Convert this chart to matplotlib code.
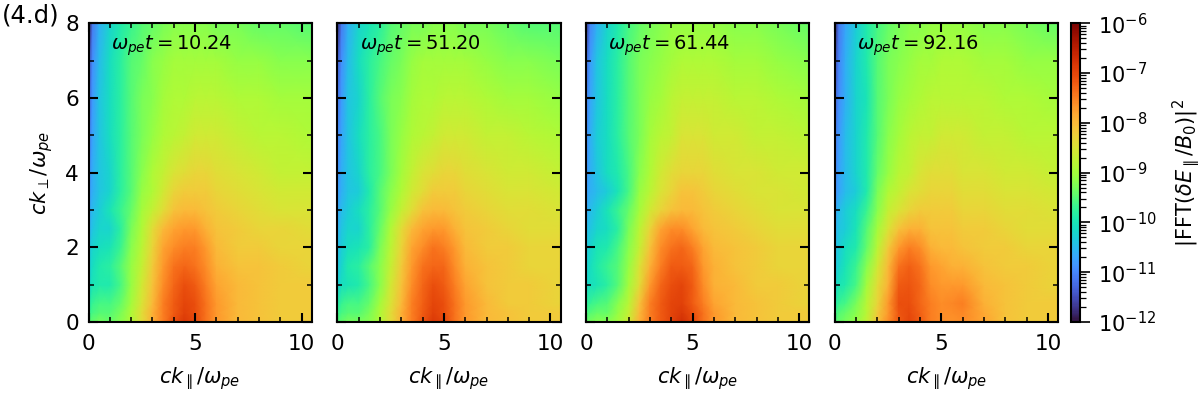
import numpy as np
import matplotlib
matplotlib.use('Agg')
import matplotlib.pyplot as plt
from matplotlib.colors import LogNorm
from matplotlib.ticker import MultipleLocator

# wavenumber sample points of the spectra
k_par = [0, 0.2, 0.5, 1, 1.5, 2, 2.5, 3, 3.5, 4, 4.5, 5, 5.5, 6, 7, 8, 9, 10.47]
k_perp = [0, 0.25, 0.5, 1, 1.5, 2, 2.5, 3, 3.5, 4, 5, 6, 7, 8]

times = ['10.24', '51.20', '61.44', '92.16']

# log10 of the spectrum, rows go up in k_perp
log_t1024 = [
    [-9.5, -9.4, -9.3, -9.4, -9.2, -8.9, -8.4, -7.9, -7.5, -7.1, -6.85, -7.05, -7.4, -7.7, -8.0, -8.1, -8.2, -8.2],
    [-9.7, -9.6, -9.5, -9.5, -9.3, -8.9, -8.4, -7.9, -7.5, -7.2, -6.95, -7.1, -7.4, -7.7, -8.0, -8.1, -8.2, -8.2],
    [-9.9, -9.7, -9.6, -9.6, -9.4, -9.0, -8.5, -8.0, -7.5, -7.2, -7.0, -7.1, -7.4, -7.7, -8.0, -8.1, -8.2, -8.2],
    [-10.2, -10.0, -9.9, -9.9, -9.6, -9.1, -8.6, -8.1, -7.6, -7.3, -7.1, -7.2, -7.5, -7.8, -8.0, -8.1, -8.2, -8.2],
    [-10.3, -10.1, -9.9, -9.8, -9.5, -9.1, -8.7, -8.2, -7.7, -7.4, -7.3, -7.4, -7.6, -7.9, -8.1, -8.1, -8.2, -8.3],
    [-10.4, -10.2, -10.1, -10.0, -9.7, -9.2, -8.8, -8.3, -7.8, -7.6, -7.5, -7.5, -7.7, -8.0, -8.2, -8.2, -8.3, -8.3],
    [-10.6, -10.4, -10.2, -10.2, -9.8, -9.3, -8.9, -8.4, -8.0, -7.8, -7.7, -7.7, -7.9, -8.1, -8.2, -8.3, -8.3, -8.4],
    [-10.7, -10.5, -10.3, -10.0, -9.7, -9.4, -9.0, -8.7, -8.4, -8.1, -8.0, -8.0, -8.1, -8.2, -8.3, -8.4, -8.5, -8.5],
    [-10.8, -10.6, -10.4, -10.2, -9.8, -9.5, -9.1, -8.9, -8.6, -8.3, -8.2, -8.2, -8.2, -8.3, -8.4, -8.5, -8.6, -8.6],
    [-10.9, -10.6, -10.4, -10.2, -9.8, -9.5, -9.2, -8.9, -8.7, -8.5, -8.4, -8.3, -8.3, -8.4, -8.5, -8.6, -8.7, -8.7],
    [-11.1, -10.7, -10.4, -10.1, -9.8, -9.5, -9.3, -9.1, -8.9, -8.8, -8.7, -8.6, -8.6, -8.6, -8.7, -8.8, -8.8, -8.9],
    [-11.3, -10.8, -10.4, -10.1, -9.8, -9.5, -9.3, -9.2, -9.0, -8.9, -8.9, -8.8, -8.8, -8.8, -8.9, -8.9, -9.0, -9.0],
    [-11.5, -10.9, -10.5, -10.1, -9.8, -9.5, -9.4, -9.2, -9.1, -9.0, -9.0, -9.0, -9.0, -9.0, -9.1, -9.1, -9.2, -9.2],
    [-11.9, -11.1, -10.6, -10.2, -9.9, -9.7, -9.5, -9.4, -9.3, -9.2, -9.2, -9.2, -9.2, -9.3, -9.3, -9.4, -9.4, -9.5],
]

log_t5120 = [
    [-9.5, -9.4, -9.3, -9.3, -9.2, -8.9, -8.4, -7.9, -7.5, -7.15, -6.85, -7.0, -7.4, -7.7, -8.0, -8.1, -8.2, -8.2],
    [-9.7, -9.6, -9.5, -9.5, -9.3, -8.9, -8.4, -7.9, -7.5, -7.2, -6.95, -7.1, -7.4, -7.7, -8.0, -8.1, -8.2, -8.2],
    [-9.9, -9.7, -9.6, -9.6, -9.4, -9.0, -8.5, -8.0, -7.5, -7.25, -7.0, -7.1, -7.4, -7.7, -8.0, -8.2, -8.2, -8.3],
    [-10.3, -10.1, -10.0, -9.9, -9.6, -9.2, -8.6, -8.1, -7.6, -7.3, -7.1, -7.2, -7.5, -7.8, -8.1, -8.2, -8.2, -8.3],
    [-10.4, -10.2, -9.9, -9.8, -9.5, -9.2, -8.7, -8.2, -7.7, -7.4, -7.3, -7.3, -7.6, -7.9, -8.1, -8.2, -8.3, -8.3],
    [-10.5, -10.3, -10.1, -10.0, -9.8, -9.3, -8.8, -8.3, -7.8, -7.6, -7.4, -7.5, -7.7, -8.0, -8.2, -8.2, -8.3, -8.3],
    [-10.6, -10.4, -10.2, -10.2, -9.8, -9.4, -8.9, -8.4, -8.0, -7.8, -7.7, -7.7, -7.9, -8.1, -8.2, -8.3, -8.4, -8.4],
    [-10.7, -10.5, -10.3, -10.1, -9.8, -9.5, -9.1, -8.7, -8.4, -8.1, -8.0, -8.0, -8.1, -8.2, -8.3, -8.4, -8.4, -8.5],
    [-10.8, -10.6, -10.4, -10.3, -9.9, -9.5, -9.2, -8.9, -8.6, -8.4, -8.2, -8.2, -8.2, -8.3, -8.4, -8.5, -8.5, -8.6],
    [-10.9, -10.6, -10.4, -10.2, -9.8, -9.6, -9.3, -9.0, -8.7, -8.5, -8.4, -8.3, -8.3, -8.4, -8.5, -8.6, -8.6, -8.7],
    [-11.0, -10.7, -10.4, -10.1, -9.8, -9.6, -9.3, -9.1, -8.9, -8.8, -8.7, -8.6, -8.6, -8.6, -8.7, -8.7, -8.8, -8.9],
    [-11.2, -10.8, -10.4, -10.2, -9.8, -9.5, -9.3, -9.2, -9.0, -8.9, -8.9, -8.8, -8.8, -8.8, -8.9, -9.0, -9.0, -9.1],
    [-11.4, -10.9, -10.5, -10.1, -9.8, -9.6, -9.4, -9.3, -9.1, -9.0, -9.0, -9.0, -9.0, -9.0, -9.1, -9.2, -9.2, -9.3],
    [-11.8, -11.1, -10.6, -10.2, -10.0, -9.8, -9.5, -9.4, -9.3, -9.3, -9.2, -9.2, -9.2, -9.3, -9.3, -9.4, -9.5, -9.5],
]

log_t6144 = [
    [-9.4, -9.3, -9.2, -9.2, -9.0, -8.6, -7.9, -7.5, -7.2, -7.0, -6.75, -7.0, -7.4, -7.7, -8.0, -8.1, -8.2, -8.2],
    [-9.6, -9.5, -9.4, -9.4, -9.1, -8.7, -8.0, -7.5, -7.2, -7.0, -6.85, -7.1, -7.4, -7.7, -8.0, -8.1, -8.2, -8.2],
    [-9.8, -9.7, -9.6, -9.5, -9.2, -8.8, -8.1, -7.5, -7.2, -7.0, -6.95, -7.2, -7.5, -7.8, -8.0, -8.1, -8.2, -8.3],
    [-10.2, -10.1, -10.0, -9.8, -9.5, -9.0, -8.4, -7.7, -7.3, -7.1, -7.0, -7.2, -7.6, -7.9, -8.0, -8.2, -8.2, -8.3],
    [-10.3, -10.1, -9.9, -9.7, -9.5, -9.1, -8.5, -7.9, -7.5, -7.2, -7.2, -7.3, -7.7, -7.9, -8.1, -8.2, -8.3, -8.3],
    [-10.4, -10.2, -10.0, -9.9, -9.6, -9.2, -8.7, -8.1, -7.6, -7.4, -7.3, -7.5, -7.8, -8.0, -8.1, -8.2, -8.3, -8.3],
    [-10.5, -10.4, -10.2, -10.1, -9.8, -9.3, -8.8, -8.3, -7.8, -7.6, -7.6, -7.8, -8.0, -8.1, -8.2, -8.3, -8.4, -8.4],
    [-10.7, -10.5, -10.3, -10.0, -9.7, -9.4, -9.0, -8.6, -8.3, -8.1, -8.0, -8.0, -8.1, -8.2, -8.3, -8.4, -8.5, -8.5],
    [-10.8, -10.6, -10.5, -10.3, -10.0, -9.6, -9.1, -8.8, -8.5, -8.3, -8.1, -8.1, -8.2, -8.3, -8.4, -8.5, -8.5, -8.6],
    [-10.9, -10.6, -10.4, -10.1, -9.9, -9.6, -9.2, -8.9, -8.6, -8.4, -8.3, -8.3, -8.3, -8.4, -8.5, -8.5, -8.6, -8.6],
    [-11.0, -10.6, -10.3, -10.1, -9.8, -9.5, -9.3, -9.0, -8.8, -8.7, -8.5, -8.5, -8.5, -8.6, -8.6, -8.7, -8.7, -8.8],
    [-11.1, -10.7, -10.4, -10.1, -9.8, -9.5, -9.3, -9.1, -9.0, -8.8, -8.7, -8.7, -8.7, -8.7, -8.8, -8.8, -8.9, -9.0],
    [-11.3, -10.8, -10.4, -10.1, -9.8, -9.5, -9.3, -9.2, -9.1, -9.0, -8.9, -8.9, -8.9, -8.9, -9.0, -9.0, -9.1, -9.2],
    [-11.7, -11.0, -10.6, -10.2, -9.9, -9.6, -9.4, -9.3, -9.2, -9.1, -9.1, -9.1, -9.1, -9.1, -9.2, -9.2, -9.3, -9.4],
]

log_t9216 = [
    [-9.5, -9.4, -9.3, -9.1, -8.7, -8.1, -7.6, -7.2, -7.0, -7.2, -7.5, -7.6, -7.65, -7.6, -7.8, -8.1, -8.2, -8.2],
    [-9.7, -9.5, -9.4, -9.2, -8.8, -8.2, -7.7, -7.15, -7.05, -7.25, -7.5, -7.6, -7.6, -7.55, -7.85, -8.1, -8.2, -8.2],
    [-9.9, -9.7, -9.6, -9.3, -8.8, -8.3, -7.7, -7.1, -7.1, -7.3, -7.5, -7.6, -7.55, -7.5, -7.9, -8.1, -8.2, -8.2],
    [-10.2, -10.0, -9.9, -9.6, -9.0, -8.4, -7.9, -7.2, -7.15, -7.3, -7.6, -7.7, -7.7, -7.7, -8.0, -8.1, -8.2, -8.3],
    [-10.4, -10.2, -10.0, -9.7, -9.2, -8.6, -8.0, -7.4, -7.25, -7.4, -7.7, -7.8, -7.9, -7.9, -8.1, -8.2, -8.2, -8.3],
    [-10.5, -10.3, -10.1, -9.9, -9.4, -8.8, -8.2, -7.7, -7.5, -7.6, -7.9, -8.0, -8.0, -8.1, -8.2, -8.2, -8.3, -8.3],
    [-10.6, -10.4, -10.3, -10.0, -9.5, -9.0, -8.5, -8.1, -7.9, -7.9, -8.1, -8.1, -8.1, -8.2, -8.2, -8.3, -8.4, -8.4],
    [-10.7, -10.5, -10.3, -10.1, -9.7, -9.2, -8.7, -8.5, -8.3, -8.2, -8.2, -8.2, -8.2, -8.3, -8.3, -8.4, -8.4, -8.5],
    [-10.9, -10.7, -10.5, -10.3, -9.9, -9.3, -8.9, -8.7, -8.5, -8.4, -8.3, -8.3, -8.3, -8.4, -8.4, -8.5, -8.5, -8.6],
    [-11.0, -10.7, -10.5, -10.2, -9.9, -9.4, -9.1, -8.8, -8.7, -8.5, -8.4, -8.4, -8.4, -8.5, -8.5, -8.6, -8.6, -8.7],
    [-11.1, -10.8, -10.5, -10.2, -9.9, -9.5, -9.2, -9.0, -8.8, -8.7, -8.7, -8.6, -8.6, -8.6, -8.7, -8.7, -8.8, -8.8],
    [-11.3, -10.9, -10.6, -10.2, -10.0, -9.5, -9.3, -9.1, -9.0, -8.9, -8.8, -8.8, -8.8, -8.8, -8.8, -8.9, -8.9, -9.0],
    [-11.5, -11.0, -10.6, -10.2, -9.9, -9.5, -9.3, -9.2, -9.1, -9.0, -9.0, -8.9, -8.9, -8.9, -9.0, -9.0, -9.1, -9.1],
    [-11.8, -11.1, -10.7, -10.3, -9.9, -9.6, -9.4, -9.3, -9.2, -9.2, -9.1, -9.1, -9.1, -9.1, -9.2, -9.2, -9.3, -9.4],
]

spectra = [log_t1024, log_t5120, log_t6144, log_t9216]

W, H = 1200., 397.
FS_TICK = 15.5
FS_LABEL = 15
FS_NOTE = 14
LW = 1.5

plt.rcParams['font.size'] = FS_TICK
plt.rcParams['axes.linewidth'] = LW

def px_axes(fig, x0, x1, y0, y1):
    # axes box from pixel edges, y counted from the top of the image
    return fig.add_axes([x0/W, 1 - y1/H, (x1 - x0)/W, (y1 - y0)/H])

fig = plt.figure(figsize=(W/100, H/100), dpi=100)
norm = LogNorm(vmin=1e-12, vmax=1e-6)
lefts = [88.5, 337.3, 586, 834.8]

for i in range(4):
    ax = px_axes(fig, lefts[i], lefts[i] + 223.2, 23.3, 322)
    mesh = ax.pcolormesh(k_par, k_perp, 10.0**np.array(spectra[i]), cmap='turbo',
                         norm=norm, shading='gouraud', rasterized=True)
    ax.set_xlim(0, 10.47)
    ax.set_ylim(0, 8)
    ax.xaxis.set_major_locator(MultipleLocator(5))
    ax.xaxis.set_minor_locator(MultipleLocator(1))
    ax.yaxis.set_major_locator(MultipleLocator(2))
    ax.yaxis.set_minor_locator(MultipleLocator(1))
    ax.tick_params(which='major', direction='in', top=True, right=True, length=6.5, width=LW, pad=7)
    ax.tick_params(which='minor', direction='in', top=True, right=True, length=3.5, width=1.1)
    ax.tick_params(axis='x', which='major', pad=9)
    ax.set_xlabel(r'$ck_\parallel/\omega_{pe}$', fontsize=FS_LABEL, labelpad=8)
    if i == 0:
        ax.set_ylabel(r'$ck_\perp/\omega_{pe}$', fontsize=FS_LABEL, labelpad=7)
    else:
        ax.set_yticklabels([])
    ax.text(0.1, 0.925, r'$\omega_{pe}t=$' + times[i], transform=ax.transAxes,
            va='center', color='k', fontsize=FS_NOTE)

cax = px_axes(fig, 1071, 1080, 23.3, 322)
cb = fig.colorbar(mesh, cax=cax)
cb.outline.set_linewidth(LW)
cb.ax.tick_params(which='major', length=7, width=1.2, pad=6, labelsize=15)
cb.ax.tick_params(which='minor', length=4, width=0.9)
cb.set_label(r'$|\mathrm{FFT}(\delta E_\parallel/B_0)|^2$', fontsize=FS_LABEL, labelpad=10)

fig.text(2/W, 1 - 15/H, '(4.d)', va='center', ha='left', fontsize=17.5)

fig.savefig('out.png', dpi=100)
